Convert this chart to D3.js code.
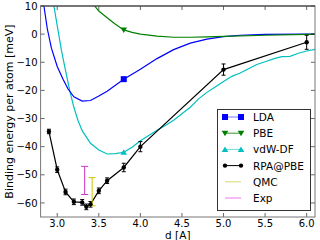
<!DOCTYPE html>
<html><head><meta charset="utf-8">
<script src="https://cdn.jsdelivr.net/npm/d3@7"></script>
<style>body{margin:0;background:#fff}svg{display:block}text{font-family:"DejaVu Sans",sans-serif}</style>
</head><body>
<svg id="c" width="320" height="240"></svg>
<script>
const xTicks=[3.0,3.5,4.0,4.5,5.0,5.5,6.0];
const yTicks=[10,0,-10,-20,-30,-40,-50,-60];
const ldaD=[2.8,2.84,2.88,2.93,3.0,3.07,3.13,3.2,3.3,3.4,3.5,3.6,3.8,4.0,4.2,4.4,4.6,4.8,5.0,5.2,5.5,6.0,6.1];
const ldaE=[18,10,2,-5,-11.5,-16,-19.5,-22.3,-23.8,-23.6,-22,-20.3,-16,-12.5,-8.7,-5.5,-3.2,-1.8,-0.9,-0.4,-0.1,0,0];
const pbeD=[3.4,3.45,3.5,3.6,3.7,3.8,3.9,4.0,4.2,4.4,4.6,4.8,5.0,5.5,6.0,6.1];
const pbeE=[13,10,8.2,5.8,3.5,1.5,0.6,0,-0.7,-1.1,-1.1,-1.0,-0.8,-0.4,-0.1,0];
const vdwD=[2.9,2.96,3.0,3.05,3.1,3.15,3.2,3.25,3.3,3.4,3.5,3.6,3.7,3.8,3.9,4.0,4.1,4.2,4.3,4.4,4.5,4.6,4.7,4.8,4.9,5.0,5.1,5.2,5.3,5.4,5.5,5.6,5.7,5.8,5.9,6.0,6.1];
const vdwE=[21,10,3,-5.7,-13,-20,-26,-30.7,-34.3,-38.8,-41.2,-42.6,-42.5,-42,-40.2,-37.9,-36,-34.2,-32.5,-30.6,-28.3,-26,-23,-20.7,-18.8,-16.8,-15,-13.8,-12.3,-10.8,-9.8,-8.8,-8,-7.9,-6.8,-6,-5.4];
const rpaD=[2.9,3.0,3.1,3.2,3.3,3.35,3.4,3.5,3.6,3.8,4.0,5.0,6.0];
const rpaE=[-34.6,-48.2,-56.1,-59.6,-59.8,-61.4,-60.5,-55.7,-52.1,-47.4,-40,-12.6,-2.9];
const rpaErr=[0.8,1,1,1,1,1,1,1,1,1.5,1.8,2,2.5];
const qmc={d:3.42,e:-56,err:5};
const expt={d:3.33,e:-52,err:5};
const legendLabels=["LDA","PBE","vdW-DF","RPA@PBE","QMC","Exp"];

const svg=d3.select("#c");
const L=40.6,R=315,T=6,B=217;
const x=d3.scaleLinear().domain([2.8,6.1]).range([L,R]);
const y=d3.scaleLinear().domain([-65,10]).range([B,T]);
svg.append("defs").append("clipPath").attr("id","cp").append("rect").attr("x",L).attr("y",T).attr("width",R-L).attr("height",B-T);
const g=svg.append("g").attr("clip-path","url(#cp)");
const line=d3.line().x(d=>x(d[0])).y(d=>y(d[1]));
const zip=(a,b)=>a.map((v,i)=>[v,b[i]]);
const cols={lda:"#0000ff",pbe:"#008000",vdw:"#00bfbf",rpa:"#000",qmc:"#c8c800",exp:"#cc33cc"};
g.append("path").datum(zip(vdwD,vdwE)).attr("d",line).attr("fill","none").attr("stroke",cols.vdw).attr("stroke-width",1.2);
g.append("path").datum(zip(ldaD,ldaE)).attr("d",line).attr("fill","none").attr("stroke",cols.lda).attr("stroke-width",1.2);
g.append("path").datum(zip(pbeD,pbeE)).attr("d",line).attr("fill","none").attr("stroke",cols.pbe).attr("stroke-width",1.2);
g.append("path").datum(zip(rpaD,rpaE)).attr("d",line).attr("fill","none").attr("stroke",cols.rpa).attr("stroke-width",1.2);
function ebar(par,xv,yv,err,col,cap){
  par.append("line").attr("x1",x(xv)).attr("x2",x(xv)).attr("y1",y(yv-err)).attr("y2",y(yv+err)).attr("stroke",col).attr("stroke-width",1);
  [yv-err,yv+err].forEach(v=>par.append("line").attr("x1",x(xv)-cap).attr("x2",x(xv)+cap).attr("y1",y(v)).attr("y2",y(v)).attr("stroke",col).attr("stroke-width",1));
}
rpaD.forEach((d,i)=>ebar(g,d,rpaE[i],rpaErr[i],"#000",2));
ebar(g,expt.d,expt.e,expt.err,cols.exp,3.5);
ebar(g,qmc.d,qmc.e,qmc.err,cols.qmc,3.5);
rpaD.forEach((d,i)=>g.append("circle").attr("cx",x(d)).attr("cy",y(rpaE[i])).attr("r",2.2).attr("fill","#000"));
function marker(par,type,cx,cy,col){
  if(type==="sq") par.append("rect").attr("x",cx-3).attr("y",cy-3).attr("width",6).attr("height",6).attr("fill",col);
  else if(type==="tv") par.append("path").attr("d",`M${cx-3.3},${cy-2.5}L${cx+3.3},${cy-2.5}L${cx},${cy+3}Z`).attr("fill",col);
  else if(type==="t^") par.append("path").attr("d",`M${cx-3.3},${cy+2.5}L${cx+3.3},${cy+2.5}L${cx},${cy-3}Z`).attr("fill",col);
  else if(type==="o") par.append("circle").attr("cx",cx).attr("cy",cy).attr("r",2.2).attr("fill",col);
}
marker(g,"sq",x(3.8),y(ldaE[ldaD.indexOf(3.8)]),cols.lda);
marker(g,"tv",x(3.8),y(pbeE[pbeD.indexOf(3.8)]),cols.pbe);
marker(g,"t^",x(3.8),y(vdwE[vdwD.indexOf(3.8)]),cols.vdw);

const ax=svg.append("g");
const tickLen=4;
xTicks.forEach(t=>{
  ax.append("line").attr("x1",x(t)).attr("x2",x(t)).attr("y1",B).attr("y2",B-tickLen).attr("stroke","#000").attr("stroke-width",0.6);
  ax.append("line").attr("x1",x(t)).attr("x2",x(t)).attr("y1",T).attr("y2",T+tickLen).attr("stroke","#000").attr("stroke-width",0.6);
  ax.append("text").attr("x",x(t)).attr("y",B+9.5).attr("text-anchor","middle").attr("font-size",10).text(d3.format(".1f")(t));
});
yTicks.forEach(t=>{
  ax.append("line").attr("x1",L).attr("x2",L+tickLen).attr("y1",y(t)).attr("y2",y(t)).attr("stroke","#000").attr("stroke-width",0.6);
  ax.append("line").attr("x1",R).attr("x2",R-tickLen).attr("y1",y(t)).attr("y2",y(t)).attr("stroke","#000").attr("stroke-width",0.6);
  ax.append("text").attr("x",L-3).attr("y",y(t)+3.6).attr("text-anchor","end").attr("font-size",10).text(t<0?"\u2212"+(-t):String(t));
});
ax.append("rect").attr("x",L).attr("y",T).attr("width",R-L).attr("height",B-T).attr("fill","none").attr("stroke","#777").attr("stroke-width",1);
ax.append("line").attr("x1",L).attr("x2",R).attr("y1",T).attr("y2",T).attr("stroke","#333").attr("stroke-width",1);
svg.append("text").attr("x",(L+R)/2).attr("y",238.5).attr("text-anchor","middle").attr("font-size",10.5).text("d [A]");
svg.append("text").attr("transform",`translate(13,${(T+B)/2}) rotate(-90)`).attr("text-anchor","middle").attr("font-size",11).text("Binding energy per atom [meV]");

const lg=svg.append("g");
lg.append("rect").attr("x",217.5).attr("y",109.5).attr("width",93).attr("height",101).attr("fill","#fff").attr("stroke","#333").attr("stroke-width",1);
const lcol=[cols.lda,cols.pbe,cols.vdw,"#000","#d8d870","#ee77ee"];
const lmk=["sq","tv","t^","o",null,null];
const lcolLine=["#7777ff","#339933","#66dddd","#000","#d8d870","#ee77ee"];
legendLabels.forEach((lab,i)=>{
  const yy=117+i*16.2;
  lg.append("line").attr("x1",225).attr("x2",241).attr("y1",yy).attr("y2",yy).attr("stroke",lcolLine[i]).attr("stroke-width",1);
  if(lmk[i]){marker(lg,lmk[i],225,yy,lcol[i]);marker(lg,lmk[i],241,yy,lcol[i]);}
  lg.append("text").attr("x",253).attr("y",yy+4).attr("font-size",10.5).text(lab);
});
</script>
</body></html>
